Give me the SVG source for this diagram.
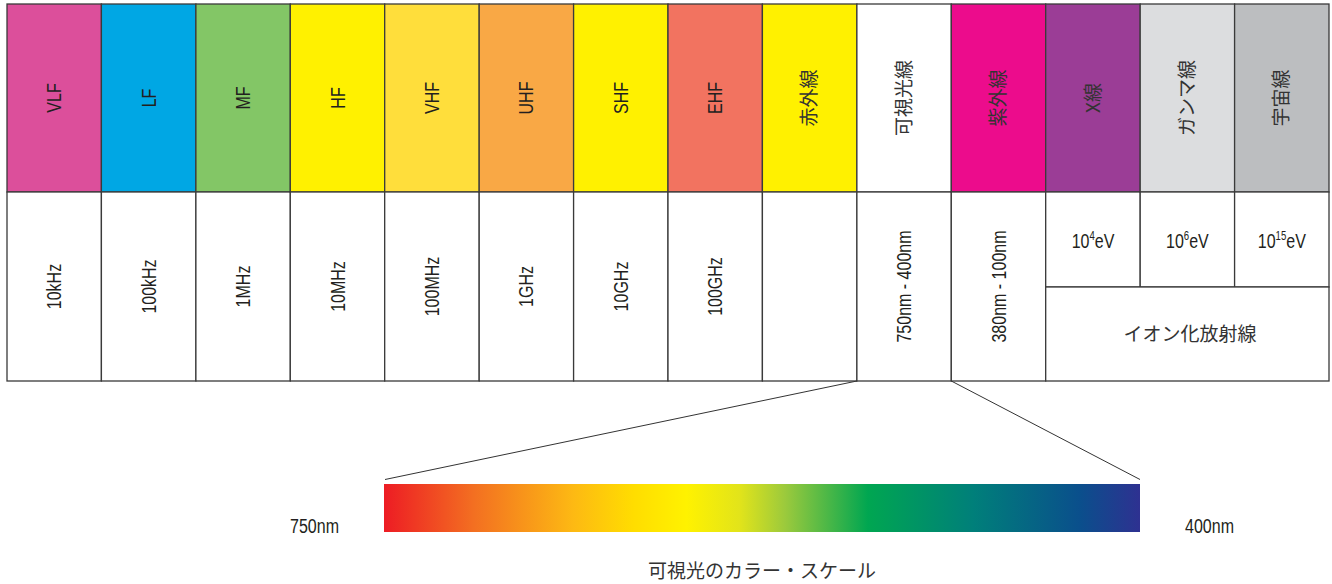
<svg xmlns="http://www.w3.org/2000/svg" width="1332" height="584" viewBox="0 0 1332 584">
<defs>
<linearGradient id="spec" x1="0" y1="0" x2="1" y2="0">
<stop offset="0" stop-color="#ED1C24"/>
<stop offset="0.12" stop-color="#F37021"/>
<stop offset="0.25" stop-color="#FDB913"/>
<stop offset="0.33" stop-color="#FFDD00"/>
<stop offset="0.40" stop-color="#FFF200"/>
<stop offset="0.47" stop-color="#E2E41A"/>
<stop offset="0.53" stop-color="#9CCA3C"/>
<stop offset="0.64" stop-color="#00A651"/>
<stop offset="0.78" stop-color="#007F7A"/>
<stop offset="0.92" stop-color="#0A4F8C"/>
<stop offset="1" stop-color="#2E3191"/>
</linearGradient>
<style>
.c{stroke:#3a3a3a;stroke-width:1.3}
.lat{font-family:"Liberation Sans",Arial,sans-serif;font-size:20px;fill:#231F20;text-anchor:middle}
.jp{font-family:"Noto Sans CJK JP","Noto Sans",sans-serif;font-size:19px;fill:#333;text-anchor:middle}
.ln{stroke:#333;stroke-width:1;fill:none}
</style>
</defs>
<rect width="1332" height="584" fill="#fff"/>

<g id="band-vlf">
<rect class="c" x="7" y="4" width="94.4" height="188" fill="#DC4F9B"/>
<text class="lat" transform="translate(54.2,98) rotate(-90) scale(0.8,1)" dy="0.35em">VLF</text>
<rect class="c" x="7" y="192" width="94.4" height="189" fill="#fff"/>
<text class="lat" transform="translate(54.2,286.5) rotate(-90) scale(0.8,1)" dy="0.35em">10kHz</text>
</g>
<g id="band-lf">
<rect class="c" x="101.4" y="4" width="94.5" height="188" fill="#00A7E4"/>
<text class="lat" transform="translate(148.6,98) rotate(-90) scale(0.8,1)" dy="0.35em">LF</text>
<rect class="c" x="101.4" y="192" width="94.5" height="189" fill="#fff"/>
<text class="lat" transform="translate(148.6,286.5) rotate(-90) scale(0.8,1)" dy="0.35em">100kHz</text>
</g>
<g id="band-mf">
<rect class="c" x="195.9" y="4" width="94.4" height="188" fill="#83C666"/>
<text class="lat" transform="translate(243.1,98) rotate(-90) scale(0.8,1)" dy="0.35em">MF</text>
<rect class="c" x="195.9" y="192" width="94.4" height="189" fill="#fff"/>
<text class="lat" transform="translate(243.1,286.5) rotate(-90) scale(0.8,1)" dy="0.35em">1MHz</text>
</g>
<g id="band-hf">
<rect class="c" x="290.3" y="4" width="94.4" height="188" fill="#FFF100"/>
<text class="lat" transform="translate(337.5,98) rotate(-90) scale(0.8,1)" dy="0.35em">HF</text>
<rect class="c" x="290.3" y="192" width="94.4" height="189" fill="#fff"/>
<text class="lat" transform="translate(337.5,286.5) rotate(-90) scale(0.8,1)" dy="0.35em">10MHz</text>
</g>
<g id="band-vhf">
<rect class="c" x="384.7" y="4" width="94.5" height="188" fill="#FFDE3B"/>
<text class="lat" transform="translate(431.9,98) rotate(-90) scale(0.8,1)" dy="0.35em">VHF</text>
<rect class="c" x="384.7" y="192" width="94.5" height="189" fill="#fff"/>
<text class="lat" transform="translate(431.9,286.5) rotate(-90) scale(0.8,1)" dy="0.35em">100MHz</text>
</g>
<g id="band-uhf">
<rect class="c" x="479.2" y="4" width="94.4" height="188" fill="#F9A845"/>
<text class="lat" transform="translate(526.4,98) rotate(-90) scale(0.8,1)" dy="0.35em">UHF</text>
<rect class="c" x="479.2" y="192" width="94.4" height="189" fill="#fff"/>
<text class="lat" transform="translate(526.4,286.5) rotate(-90) scale(0.8,1)" dy="0.35em">1GHz</text>
</g>
<g id="band-shf">
<rect class="c" x="573.6" y="4" width="94.4" height="188" fill="#FFF100"/>
<text class="lat" transform="translate(620.8,98) rotate(-90) scale(0.8,1)" dy="0.35em">SHF</text>
<rect class="c" x="573.6" y="192" width="94.4" height="189" fill="#fff"/>
<text class="lat" transform="translate(620.8,286.5) rotate(-90) scale(0.8,1)" dy="0.35em">10GHz</text>
</g>
<g id="band-ehf">
<rect class="c" x="668" y="4" width="94.4" height="188" fill="#F27360"/>
<text class="lat" transform="translate(715.2,98) rotate(-90) scale(0.8,1)" dy="0.35em">EHF</text>
<rect class="c" x="668" y="192" width="94.4" height="189" fill="#fff"/>
<text class="lat" transform="translate(715.2,286.5) rotate(-90) scale(0.8,1)" dy="0.35em">100GHz</text>
</g>
<g id="band-ir">
<rect class="c" x="762.4" y="4" width="94.5" height="188" fill="#FFF100"/>
<text class="jp" transform="translate(809.7,98) rotate(-90)" dy="0.35em">赤外線</text>
<rect class="c" x="762.4" y="192" width="94.5" height="189" fill="#fff"/>
</g>
<g id="band-visible">
<rect class="c" x="856.9" y="4" width="94.4" height="188" fill="#fff"/>
<text class="jp" transform="translate(904.1,98) rotate(-90)" dy="0.35em">可視光線</text>
<rect class="c" x="856.9" y="192" width="94.4" height="189" fill="#fff"/>
<text class="lat" transform="translate(904.1,286.5) rotate(-90) scale(0.8,1)" dy="0.35em">750nm - 400nm</text>
</g>
<g id="band-uv">
<rect class="c" x="951.3" y="4" width="94.4" height="188" fill="#EC0C8C"/>
<text class="jp" transform="translate(998.5,98) rotate(-90)" dy="0.35em">紫外線</text>
<rect class="c" x="951.3" y="192" width="94.4" height="189" fill="#fff"/>
<text class="lat" transform="translate(998.5,286.5) rotate(-90) scale(0.8,1)" dy="0.35em">380nm - 100nm</text>
</g>
<g id="band-xray">
<rect class="c" x="1045.7" y="4" width="94.5" height="188" fill="#9B3D96"/>
<text class="jp" transform="translate(1093,98) rotate(-90)" dy="0.35em">X線</text>
<rect class="c" x="1045.7" y="192" width="94.5" height="95" fill="#fff"/>
<text class="lat" transform="translate(1093,248) scale(0.8,1)">10<tspan font-size="12" dy="-8">4</tspan><tspan dy="8">eV</tspan></text>
</g>
<g id="band-gamma">
<rect class="c" x="1140.2" y="4" width="94.4" height="188" fill="#DCDDDF"/>
<text class="jp" transform="translate(1187.4,98) rotate(-90)" dy="0.35em">ガンマ線</text>
<rect class="c" x="1140.2" y="192" width="94.4" height="95" fill="#fff"/>
<text class="lat" transform="translate(1187.4,248) scale(0.8,1)">10<tspan font-size="12" dy="-8">6</tspan><tspan dy="8">eV</tspan></text>
</g>
<g id="band-cosmic">
<rect class="c" x="1234.6" y="4" width="94.4" height="188" fill="#BCBEC0"/>
<text class="jp" transform="translate(1281.8,98) rotate(-90)" dy="0.35em">宇宙線</text>
<rect class="c" x="1234.6" y="192" width="94.4" height="95" fill="#fff"/>
<text class="lat" transform="translate(1281.8,248) scale(0.8,1)">10<tspan font-size="12" dy="-8">15</tspan><tspan dy="8">eV</tspan></text>
</g>
<g id="ionizing">
<rect class="c" x="1045.7" y="287" width="283.3" height="94" fill="#fff"/>
<text class="jp" x="1190" y="341" font-size="20">イオン化放射線</text>
</g>

<g id="connectors">
<line class="ln" x1="856.9" y1="381" x2="385" y2="479.5"/>
<line class="ln" x1="951.3" y1="381" x2="1140" y2="479.5"/>
</g>

<g id="spectrum">
<rect x="384" y="484" width="756" height="48" fill="url(#spec)"/>
<text class="lat" transform="translate(314.5,533) scale(0.8,1)">750nm</text>
<text class="lat" transform="translate(1209.5,533) scale(0.8,1)">400nm</text>
<text class="jp" x="762" y="578" font-size="20">可視光のカラー・スケール</text>
</g>
</svg>
